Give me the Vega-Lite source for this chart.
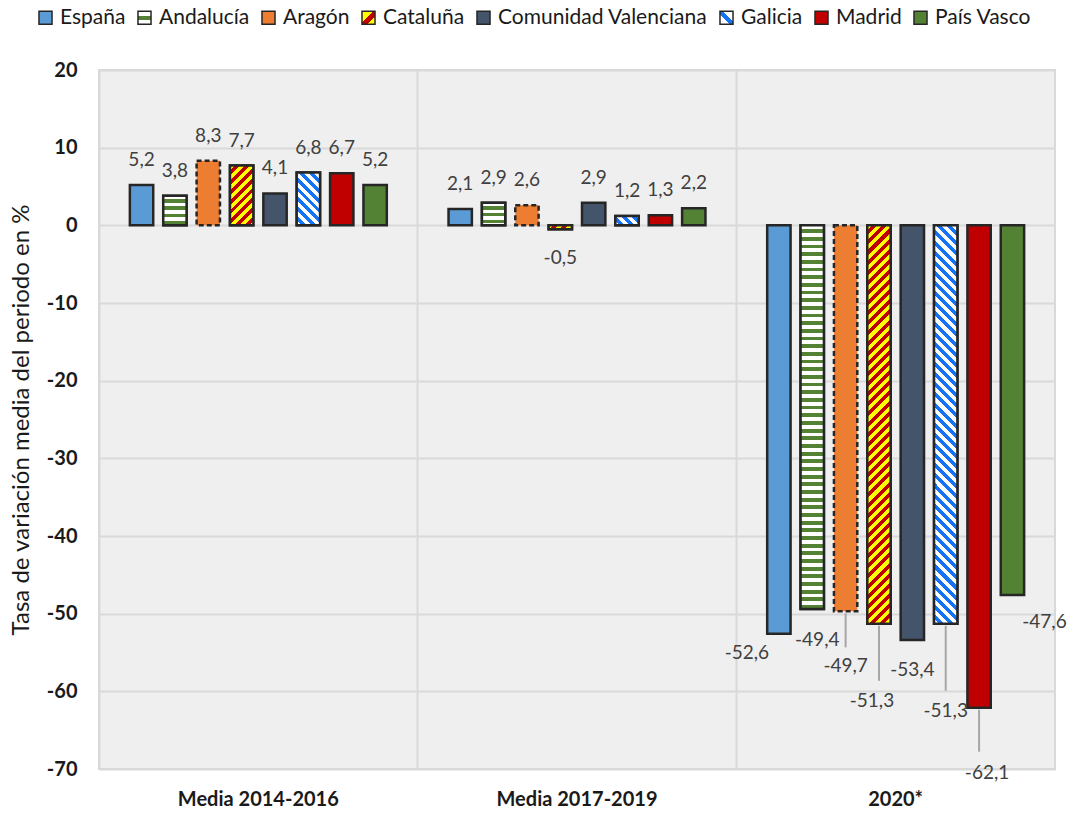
{
  "$schema": "https://vega.github.io/schema/vega-lite/v6.json",
  "width": 956,
  "height": 699,
  "autosize": {"type": "none"},
  "padding": {"left": 99, "top": 70, "right": 20, "bottom": 45},
  "background": "#ffffff",
  "config": {
    "font": "Lato",
    "locale": {"number": {"decimal": ",", "thousands": ".", "grouping": [3], "currency": ["", " €"], "minus": "-"}},
    "view": {"fill": "#efefef", "stroke": "#d9d9d9", "strokeWidth": 2}
  },
  "data": {"values": [
    {"period": "Media 2014-2016", "region": "España", "value": 5.2},
    {"period": "Media 2014-2016", "region": "Andalucía", "value": 3.8},
    {"period": "Media 2014-2016", "region": "Aragón", "value": 8.3},
    {"period": "Media 2014-2016", "region": "Cataluña", "value": 7.7},
    {"period": "Media 2014-2016", "region": "Comunidad Valenciana", "value": 4.1},
    {"period": "Media 2014-2016", "region": "Galicia", "value": 6.8},
    {"period": "Media 2014-2016", "region": "Madrid", "value": 6.7},
    {"period": "Media 2014-2016", "region": "País Vasco", "value": 5.2},
    {"period": "Media 2017-2019", "region": "España", "value": 2.1},
    {"period": "Media 2017-2019", "region": "Andalucía", "value": 2.9},
    {"period": "Media 2017-2019", "region": "Aragón", "value": 2.6},
    {"period": "Media 2017-2019", "region": "Cataluña", "value": -0.5},
    {"period": "Media 2017-2019", "region": "Comunidad Valenciana", "value": 2.9},
    {"period": "Media 2017-2019", "region": "Galicia", "value": 1.2},
    {"period": "Media 2017-2019", "region": "Madrid", "value": 1.3},
    {"period": "Media 2017-2019", "region": "País Vasco", "value": 2.2},
    {"period": "2020*", "region": "España", "value": -52.6},
    {"period": "2020*", "region": "Andalucía", "value": -49.4},
    {"period": "2020*", "region": "Aragón", "value": -49.7},
    {"period": "2020*", "region": "Cataluña", "value": -51.3},
    {"period": "2020*", "region": "Comunidad Valenciana", "value": -53.4},
    {"period": "2020*", "region": "Galicia", "value": -51.3},
    {"period": "2020*", "region": "Madrid", "value": -62.1},
    {"period": "2020*", "region": "País Vasco", "value": -47.6}
  ]},
  "encoding": {
    "x": {
      "field": "period", "type": "nominal",
      "sort": ["Media 2014-2016", "Media 2017-2019", "2020*"],
      "scale": {"paddingInner": 0, "paddingOuter": 0},
      "axis": {"title": null, "labelAngle": 0, "labelFontSize": 20, "labelFontWeight": "bold", "labelColor": "#1a1a1a", "labelPadding": 20, "ticks": false, "domain": false, "grid": true, "gridColor": "#d9d9d9", "gridWidth": 2, "bandPosition": 0}
    },
    "xOffset": {
      "field": "region", "type": "nominal",
      "sort": ["España", "Andalucía", "Aragón", "Cataluña", "Comunidad Valenciana", "Galicia", "Madrid", "País Vasco"],
      "scale": {"paddingInner": 0.3, "paddingOuter": 0.925}
    },
    "y": {
      "field": "value", "type": "quantitative",
      "scale": {"domain": [-70, 20], "nice": false, "zero": false},
      "axis": {"values": [-70, -60, -50, -40, -30, -20, -10, 0, 10, 20], "format": "d", "labelFontSize": 20, "labelFontWeight": "bold", "labelColor": "#1a1a1a", "labelPadding": 22, "ticks": false, "domain": false, "gridColor": "#d9d9d9", "gridWidth": 2, "title": "Tasa de variación media del periodo en %", "titleFontSize": 24, "titleFontWeight": "normal", "titleColor": "#1a1a1a", "titlePadding": 13}
    }
  },
  "layer": [
    {
      "mark": {"type": "bar", "stroke": "#262626", "strokeWidth": 2.5},
      "encoding": {
        "color": {
          "field": "region", "type": "nominal",
          "scale": {
            "domain": ["España", "Andalucía", "Aragón", "Cataluña", "Comunidad Valenciana", "Galicia", "Madrid", "País Vasco"],
            "range": [
              "#5b9bd5",
              {"expr": "{gradient: 'linear', x1: 0, y1: 0, x2: 0, y2: 1, stops: [{offset: 0.36, color: '#ffffff'}, {offset: 0.36, color: '#548235'}, {offset: 0.64, color: '#548235'}, {offset: 0.64, color: '#ffffff'}]}"},
              "#ed7d31",
              {"expr": "{gradient: 'linear', x1: 0, y1: 0, x2: 1, y2: 1, stops: [{offset: 0.45, color: '#ffff00'}, {offset: 0.45, color: '#c00000'}, {offset: 0.7, color: '#c00000'}, {offset: 0.7, color: '#ffff00'}]}"},
              "#44546a",
              {"expr": "{gradient: 'linear', x1: 0, y1: 1, x2: 1, y2: 0, stops: [{offset: 0.38, color: '#ffffff'}, {offset: 0.38, color: '#1474f5'}, {offset: 0.62, color: '#1474f5'}, {offset: 0.62, color: '#ffffff'}]}"},
              "#c00000",
              "#548235"
            ]
          },
          "legend": {
            "orient": "none", "legendX": -64, "legendY": -63, "direction": "horizontal", "title": null,
            "symbolType": "square", "symbolSize": 170, "symbolStrokeColor": "#262626", "symbolStrokeWidth": 1.5, "symbolOpacity": 1,
            "labelFontSize": 21, "labelColor": "#1a1a1a", "labelOffset": 4, "columnPadding": 8, "labelLimit": 400,
            "encode": {"symbols": {"update": {"stroke": {"value": "#262626"}, "strokeWidth": {"value": 1.5}}}}
          }
        },
        "strokeDash": {"condition": {"test": "datum.region === 'Aragón'", "value": [5, 3]}, "value": [1, 0]}
      }
    },
    {
      "transform": [{"filter": "datum.region === 'Andalucía' && datum.period === 'Media 2014-2016'"}],
      "mark": {"type": "bar", "stroke": "#262626", "strokeWidth": 2.5, "fill": {"gradient": "linear", "x1": 0, "y1": 0, "x2": 0, "y2": 1, "stops": [
        {"offset": 0.12, "color": "#fff"}, {"offset": 0.12, "color": "#548235"}, {"offset": 0.24, "color": "#548235"}, {"offset": 0.24, "color": "#fff"},
        {"offset": 0.36, "color": "#fff"}, {"offset": 0.36, "color": "#548235"}, {"offset": 0.48, "color": "#548235"}, {"offset": 0.48, "color": "#fff"},
        {"offset": 0.6, "color": "#fff"}, {"offset": 0.6, "color": "#548235"}, {"offset": 0.72, "color": "#548235"}, {"offset": 0.72, "color": "#fff"},
        {"offset": 0.84, "color": "#fff"}, {"offset": 0.84, "color": "#548235"}, {"offset": 0.96, "color": "#548235"}, {"offset": 0.96, "color": "#fff"}
      ]}}
    },
    {
      "transform": [{"filter": "datum.region === 'Andalucía' && datum.period === 'Media 2017-2019'"}],
      "mark": {"type": "bar", "stroke": "#262626", "strokeWidth": 2.5, "fill": {"gradient": "linear", "x1": 0, "y1": 0, "x2": 0, "y2": 1, "stops": [
        {"offset": 0.15, "color": "#fff"}, {"offset": 0.15, "color": "#548235"}, {"offset": 0.3, "color": "#548235"}, {"offset": 0.3, "color": "#fff"},
        {"offset": 0.45, "color": "#fff"}, {"offset": 0.45, "color": "#548235"}, {"offset": 0.6, "color": "#548235"}, {"offset": 0.6, "color": "#fff"},
        {"offset": 0.75, "color": "#fff"}, {"offset": 0.75, "color": "#548235"}, {"offset": 0.9, "color": "#548235"}, {"offset": 0.9, "color": "#fff"}
      ]}}
    },
    {
      "transform": [{"filter": "datum.region === 'Andalucía' && datum.period === '2020*'"}],
      "mark": {"type": "bar", "stroke": "#262626", "strokeWidth": 2.5, "fill": {"gradient": "linear", "x1": 0, "y1": 0, "x2": 0, "y2": 1, "stops": [
        {"offset": 0.01, "color": "#fff"}, {"offset": 0.01, "color": "#548235"}, {"offset": 0.02, "color": "#548235"}, {"offset": 0.02, "color": "#fff"},
        {"offset": 0.03, "color": "#fff"}, {"offset": 0.03, "color": "#548235"}, {"offset": 0.04, "color": "#548235"}, {"offset": 0.04, "color": "#fff"},
        {"offset": 0.05, "color": "#fff"}, {"offset": 0.05, "color": "#548235"}, {"offset": 0.06, "color": "#548235"}, {"offset": 0.06, "color": "#fff"},
        {"offset": 0.07, "color": "#fff"}, {"offset": 0.07, "color": "#548235"}, {"offset": 0.08, "color": "#548235"}, {"offset": 0.08, "color": "#fff"},
        {"offset": 0.09, "color": "#fff"}, {"offset": 0.09, "color": "#548235"}, {"offset": 0.1, "color": "#548235"}, {"offset": 0.1, "color": "#fff"},
        {"offset": 0.11, "color": "#fff"}, {"offset": 0.11, "color": "#548235"}, {"offset": 0.12, "color": "#548235"}, {"offset": 0.12, "color": "#fff"},
        {"offset": 0.13, "color": "#fff"}, {"offset": 0.13, "color": "#548235"}, {"offset": 0.14, "color": "#548235"}, {"offset": 0.14, "color": "#fff"},
        {"offset": 0.15, "color": "#fff"}, {"offset": 0.15, "color": "#548235"}, {"offset": 0.16, "color": "#548235"}, {"offset": 0.16, "color": "#fff"},
        {"offset": 0.17, "color": "#fff"}, {"offset": 0.17, "color": "#548235"}, {"offset": 0.18, "color": "#548235"}, {"offset": 0.18, "color": "#fff"},
        {"offset": 0.19, "color": "#fff"}, {"offset": 0.19, "color": "#548235"}, {"offset": 0.2, "color": "#548235"}, {"offset": 0.2, "color": "#fff"},
        {"offset": 0.21, "color": "#fff"}, {"offset": 0.21, "color": "#548235"}, {"offset": 0.22, "color": "#548235"}, {"offset": 0.22, "color": "#fff"},
        {"offset": 0.23, "color": "#fff"}, {"offset": 0.23, "color": "#548235"}, {"offset": 0.24, "color": "#548235"}, {"offset": 0.24, "color": "#fff"},
        {"offset": 0.25, "color": "#fff"}, {"offset": 0.25, "color": "#548235"}, {"offset": 0.26, "color": "#548235"}, {"offset": 0.26, "color": "#fff"},
        {"offset": 0.27, "color": "#fff"}, {"offset": 0.27, "color": "#548235"}, {"offset": 0.28, "color": "#548235"}, {"offset": 0.28, "color": "#fff"},
        {"offset": 0.29, "color": "#fff"}, {"offset": 0.29, "color": "#548235"}, {"offset": 0.3, "color": "#548235"}, {"offset": 0.3, "color": "#fff"},
        {"offset": 0.31, "color": "#fff"}, {"offset": 0.31, "color": "#548235"}, {"offset": 0.32, "color": "#548235"}, {"offset": 0.32, "color": "#fff"},
        {"offset": 0.33, "color": "#fff"}, {"offset": 0.33, "color": "#548235"}, {"offset": 0.34, "color": "#548235"}, {"offset": 0.34, "color": "#fff"},
        {"offset": 0.35, "color": "#fff"}, {"offset": 0.35, "color": "#548235"}, {"offset": 0.36, "color": "#548235"}, {"offset": 0.36, "color": "#fff"},
        {"offset": 0.37, "color": "#fff"}, {"offset": 0.37, "color": "#548235"}, {"offset": 0.38, "color": "#548235"}, {"offset": 0.38, "color": "#fff"},
        {"offset": 0.39, "color": "#fff"}, {"offset": 0.39, "color": "#548235"}, {"offset": 0.4, "color": "#548235"}, {"offset": 0.4, "color": "#fff"},
        {"offset": 0.41, "color": "#fff"}, {"offset": 0.41, "color": "#548235"}, {"offset": 0.42, "color": "#548235"}, {"offset": 0.42, "color": "#fff"},
        {"offset": 0.43, "color": "#fff"}, {"offset": 0.43, "color": "#548235"}, {"offset": 0.44, "color": "#548235"}, {"offset": 0.44, "color": "#fff"},
        {"offset": 0.45, "color": "#fff"}, {"offset": 0.45, "color": "#548235"}, {"offset": 0.46, "color": "#548235"}, {"offset": 0.46, "color": "#fff"},
        {"offset": 0.47, "color": "#fff"}, {"offset": 0.47, "color": "#548235"}, {"offset": 0.48, "color": "#548235"}, {"offset": 0.48, "color": "#fff"},
        {"offset": 0.49, "color": "#fff"}, {"offset": 0.49, "color": "#548235"}, {"offset": 0.5, "color": "#548235"}, {"offset": 0.5, "color": "#fff"},
        {"offset": 0.51, "color": "#fff"}, {"offset": 0.51, "color": "#548235"}, {"offset": 0.52, "color": "#548235"}, {"offset": 0.52, "color": "#fff"},
        {"offset": 0.53, "color": "#fff"}, {"offset": 0.53, "color": "#548235"}, {"offset": 0.54, "color": "#548235"}, {"offset": 0.54, "color": "#fff"},
        {"offset": 0.55, "color": "#fff"}, {"offset": 0.55, "color": "#548235"}, {"offset": 0.56, "color": "#548235"}, {"offset": 0.56, "color": "#fff"},
        {"offset": 0.57, "color": "#fff"}, {"offset": 0.57, "color": "#548235"}, {"offset": 0.58, "color": "#548235"}, {"offset": 0.58, "color": "#fff"},
        {"offset": 0.59, "color": "#fff"}, {"offset": 0.59, "color": "#548235"}, {"offset": 0.6, "color": "#548235"}, {"offset": 0.6, "color": "#fff"},
        {"offset": 0.61, "color": "#fff"}, {"offset": 0.61, "color": "#548235"}, {"offset": 0.62, "color": "#548235"}, {"offset": 0.62, "color": "#fff"},
        {"offset": 0.63, "color": "#fff"}, {"offset": 0.63, "color": "#548235"}, {"offset": 0.64, "color": "#548235"}, {"offset": 0.64, "color": "#fff"},
        {"offset": 0.65, "color": "#fff"}, {"offset": 0.65, "color": "#548235"}, {"offset": 0.66, "color": "#548235"}, {"offset": 0.66, "color": "#fff"},
        {"offset": 0.67, "color": "#fff"}, {"offset": 0.67, "color": "#548235"}, {"offset": 0.68, "color": "#548235"}, {"offset": 0.68, "color": "#fff"},
        {"offset": 0.69, "color": "#fff"}, {"offset": 0.69, "color": "#548235"}, {"offset": 0.7, "color": "#548235"}, {"offset": 0.7, "color": "#fff"},
        {"offset": 0.71, "color": "#fff"}, {"offset": 0.71, "color": "#548235"}, {"offset": 0.72, "color": "#548235"}, {"offset": 0.72, "color": "#fff"},
        {"offset": 0.73, "color": "#fff"}, {"offset": 0.73, "color": "#548235"}, {"offset": 0.74, "color": "#548235"}, {"offset": 0.74, "color": "#fff"},
        {"offset": 0.75, "color": "#fff"}, {"offset": 0.75, "color": "#548235"}, {"offset": 0.76, "color": "#548235"}, {"offset": 0.76, "color": "#fff"},
        {"offset": 0.77, "color": "#fff"}, {"offset": 0.77, "color": "#548235"}, {"offset": 0.78, "color": "#548235"}, {"offset": 0.78, "color": "#fff"},
        {"offset": 0.79, "color": "#fff"}, {"offset": 0.79, "color": "#548235"}, {"offset": 0.8, "color": "#548235"}, {"offset": 0.8, "color": "#fff"},
        {"offset": 0.81, "color": "#fff"}, {"offset": 0.81, "color": "#548235"}, {"offset": 0.82, "color": "#548235"}, {"offset": 0.82, "color": "#fff"},
        {"offset": 0.83, "color": "#fff"}, {"offset": 0.83, "color": "#548235"}, {"offset": 0.84, "color": "#548235"}, {"offset": 0.84, "color": "#fff"},
        {"offset": 0.85, "color": "#fff"}, {"offset": 0.85, "color": "#548235"}, {"offset": 0.86, "color": "#548235"}, {"offset": 0.86, "color": "#fff"},
        {"offset": 0.87, "color": "#fff"}, {"offset": 0.87, "color": "#548235"}, {"offset": 0.88, "color": "#548235"}, {"offset": 0.88, "color": "#fff"},
        {"offset": 0.89, "color": "#fff"}, {"offset": 0.89, "color": "#548235"}, {"offset": 0.9, "color": "#548235"}, {"offset": 0.9, "color": "#fff"},
        {"offset": 0.91, "color": "#fff"}, {"offset": 0.91, "color": "#548235"}, {"offset": 0.92, "color": "#548235"}, {"offset": 0.92, "color": "#fff"},
        {"offset": 0.93, "color": "#fff"}, {"offset": 0.93, "color": "#548235"}, {"offset": 0.94, "color": "#548235"}, {"offset": 0.94, "color": "#fff"},
        {"offset": 0.95, "color": "#fff"}, {"offset": 0.95, "color": "#548235"}, {"offset": 0.96, "color": "#548235"}, {"offset": 0.96, "color": "#fff"},
        {"offset": 0.97, "color": "#fff"}, {"offset": 0.97, "color": "#548235"}, {"offset": 0.98, "color": "#548235"}, {"offset": 0.98, "color": "#fff"},
        {"offset": 0.99, "color": "#fff"}, {"offset": 0.99, "color": "#548235"}
      ]}}
    },
    {
      "transform": [{"filter": "datum.region === 'Cataluña' && datum.period === 'Media 2014-2016'"}],
      "mark": {"type": "bar", "stroke": "#262626", "strokeWidth": 2.5, "fill": {"gradient": "linear", "x1": 0, "y1": 0, "x2": 0.4713, "y2": 1.2066, "stops": [
        {"offset": 0.0595, "color": "#ff0"}, {"offset": 0.0595, "color": "#c00000"}, {"offset": 0.119, "color": "#c00000"}, {"offset": 0.119, "color": "#ff0"},
        {"offset": 0.1785, "color": "#ff0"}, {"offset": 0.1785, "color": "#c00000"}, {"offset": 0.238, "color": "#c00000"}, {"offset": 0.238, "color": "#ff0"},
        {"offset": 0.2975, "color": "#ff0"}, {"offset": 0.2975, "color": "#c00000"}, {"offset": 0.357, "color": "#c00000"}, {"offset": 0.357, "color": "#ff0"},
        {"offset": 0.4165, "color": "#ff0"}, {"offset": 0.4165, "color": "#c00000"}, {"offset": 0.476, "color": "#c00000"}, {"offset": 0.476, "color": "#ff0"},
        {"offset": 0.5355, "color": "#ff0"}, {"offset": 0.5355, "color": "#c00000"}, {"offset": 0.595, "color": "#c00000"}, {"offset": 0.595, "color": "#ff0"},
        {"offset": 0.6545, "color": "#ff0"}, {"offset": 0.6545, "color": "#c00000"}, {"offset": 0.714, "color": "#c00000"}, {"offset": 0.714, "color": "#ff0"},
        {"offset": 0.7735, "color": "#ff0"}, {"offset": 0.7735, "color": "#c00000"}, {"offset": 0.833, "color": "#c00000"}, {"offset": 0.833, "color": "#ff0"},
        {"offset": 0.8925, "color": "#ff0"}, {"offset": 0.8925, "color": "#c00000"}, {"offset": 0.952, "color": "#c00000"}, {"offset": 0.952, "color": "#ff0"}
      ]}}
    },
    {
      "transform": [{"filter": "datum.region === 'Cataluña' && datum.period === 'Media 2017-2019'"}],
      "mark": {"type": "bar", "stroke": "#262626", "strokeWidth": 2.5, "fill": {"gradient": "linear", "x1": 0, "y1": 0, "x2": 1.1353, "y2": 0.1895, "stops": [
        {"offset": 0.1816, "color": "#ff0"}, {"offset": 0.1816, "color": "#c00000"}, {"offset": 0.3632, "color": "#c00000"}, {"offset": 0.3632, "color": "#ff0"},
        {"offset": 0.5448, "color": "#ff0"}, {"offset": 0.5448, "color": "#c00000"}, {"offset": 0.7264, "color": "#c00000"}, {"offset": 0.7264, "color": "#ff0"},
        {"offset": 0.908, "color": "#ff0"}, {"offset": 0.908, "color": "#c00000"}
      ]}}
    },
    {
      "transform": [{"filter": "datum.region === 'Cataluña' && datum.period === '2020*'"}],
      "mark": {"type": "bar", "stroke": "#262626", "strokeWidth": 2.5, "fill": {"gradient": "linear", "x1": 0, "y1": 0, "x2": 0.06186, "y2": 1.05502, "stops": [
        {"offset": 0.012, "color": "#ff0"}, {"offset": 0.012, "color": "#c00000"}, {"offset": 0.024, "color": "#c00000"}, {"offset": 0.024, "color": "#ff0"},
        {"offset": 0.036, "color": "#ff0"}, {"offset": 0.036, "color": "#c00000"}, {"offset": 0.048, "color": "#c00000"}, {"offset": 0.048, "color": "#ff0"},
        {"offset": 0.06, "color": "#ff0"}, {"offset": 0.06, "color": "#c00000"}, {"offset": 0.072, "color": "#c00000"}, {"offset": 0.072, "color": "#ff0"},
        {"offset": 0.084, "color": "#ff0"}, {"offset": 0.084, "color": "#c00000"}, {"offset": 0.096, "color": "#c00000"}, {"offset": 0.096, "color": "#ff0"},
        {"offset": 0.108, "color": "#ff0"}, {"offset": 0.108, "color": "#c00000"}, {"offset": 0.12, "color": "#c00000"}, {"offset": 0.12, "color": "#ff0"},
        {"offset": 0.132, "color": "#ff0"}, {"offset": 0.132, "color": "#c00000"}, {"offset": 0.144, "color": "#c00000"}, {"offset": 0.144, "color": "#ff0"},
        {"offset": 0.156, "color": "#ff0"}, {"offset": 0.156, "color": "#c00000"}, {"offset": 0.168, "color": "#c00000"}, {"offset": 0.168, "color": "#ff0"},
        {"offset": 0.18, "color": "#ff0"}, {"offset": 0.18, "color": "#c00000"}, {"offset": 0.192, "color": "#c00000"}, {"offset": 0.192, "color": "#ff0"},
        {"offset": 0.204, "color": "#ff0"}, {"offset": 0.204, "color": "#c00000"}, {"offset": 0.216, "color": "#c00000"}, {"offset": 0.216, "color": "#ff0"},
        {"offset": 0.228, "color": "#ff0"}, {"offset": 0.228, "color": "#c00000"}, {"offset": 0.24, "color": "#c00000"}, {"offset": 0.24, "color": "#ff0"},
        {"offset": 0.252, "color": "#ff0"}, {"offset": 0.252, "color": "#c00000"}, {"offset": 0.264, "color": "#c00000"}, {"offset": 0.264, "color": "#ff0"},
        {"offset": 0.276, "color": "#ff0"}, {"offset": 0.276, "color": "#c00000"}, {"offset": 0.288, "color": "#c00000"}, {"offset": 0.288, "color": "#ff0"},
        {"offset": 0.3, "color": "#ff0"}, {"offset": 0.3, "color": "#c00000"}, {"offset": 0.312, "color": "#c00000"}, {"offset": 0.312, "color": "#ff0"},
        {"offset": 0.324, "color": "#ff0"}, {"offset": 0.324, "color": "#c00000"}, {"offset": 0.336, "color": "#c00000"}, {"offset": 0.336, "color": "#ff0"},
        {"offset": 0.348, "color": "#ff0"}, {"offset": 0.348, "color": "#c00000"}, {"offset": 0.36, "color": "#c00000"}, {"offset": 0.36, "color": "#ff0"},
        {"offset": 0.372, "color": "#ff0"}, {"offset": 0.372, "color": "#c00000"}, {"offset": 0.384, "color": "#c00000"}, {"offset": 0.384, "color": "#ff0"},
        {"offset": 0.396, "color": "#ff0"}, {"offset": 0.396, "color": "#c00000"}, {"offset": 0.408, "color": "#c00000"}, {"offset": 0.408, "color": "#ff0"},
        {"offset": 0.42, "color": "#ff0"}, {"offset": 0.42, "color": "#c00000"}, {"offset": 0.432, "color": "#c00000"}, {"offset": 0.432, "color": "#ff0"},
        {"offset": 0.444, "color": "#ff0"}, {"offset": 0.444, "color": "#c00000"}, {"offset": 0.456, "color": "#c00000"}, {"offset": 0.456, "color": "#ff0"},
        {"offset": 0.468, "color": "#ff0"}, {"offset": 0.468, "color": "#c00000"}, {"offset": 0.48, "color": "#c00000"}, {"offset": 0.48, "color": "#ff0"},
        {"offset": 0.492, "color": "#ff0"}, {"offset": 0.492, "color": "#c00000"}, {"offset": 0.504, "color": "#c00000"}, {"offset": 0.504, "color": "#ff0"},
        {"offset": 0.516, "color": "#ff0"}, {"offset": 0.516, "color": "#c00000"}, {"offset": 0.528, "color": "#c00000"}, {"offset": 0.528, "color": "#ff0"},
        {"offset": 0.54, "color": "#ff0"}, {"offset": 0.54, "color": "#c00000"}, {"offset": 0.552, "color": "#c00000"}, {"offset": 0.552, "color": "#ff0"},
        {"offset": 0.564, "color": "#ff0"}, {"offset": 0.564, "color": "#c00000"}, {"offset": 0.576, "color": "#c00000"}, {"offset": 0.576, "color": "#ff0"},
        {"offset": 0.588, "color": "#ff0"}, {"offset": 0.588, "color": "#c00000"}, {"offset": 0.6, "color": "#c00000"}, {"offset": 0.6, "color": "#ff0"},
        {"offset": 0.612, "color": "#ff0"}, {"offset": 0.612, "color": "#c00000"}, {"offset": 0.624, "color": "#c00000"}, {"offset": 0.624, "color": "#ff0"},
        {"offset": 0.636, "color": "#ff0"}, {"offset": 0.636, "color": "#c00000"}, {"offset": 0.648, "color": "#c00000"}, {"offset": 0.648, "color": "#ff0"},
        {"offset": 0.66, "color": "#ff0"}, {"offset": 0.66, "color": "#c00000"}, {"offset": 0.672, "color": "#c00000"}, {"offset": 0.672, "color": "#ff0"},
        {"offset": 0.684, "color": "#ff0"}, {"offset": 0.684, "color": "#c00000"}, {"offset": 0.696, "color": "#c00000"}, {"offset": 0.696, "color": "#ff0"},
        {"offset": 0.708, "color": "#ff0"}, {"offset": 0.708, "color": "#c00000"}, {"offset": 0.72, "color": "#c00000"}, {"offset": 0.72, "color": "#ff0"},
        {"offset": 0.732, "color": "#ff0"}, {"offset": 0.732, "color": "#c00000"}, {"offset": 0.744, "color": "#c00000"}, {"offset": 0.744, "color": "#ff0"},
        {"offset": 0.756, "color": "#ff0"}, {"offset": 0.756, "color": "#c00000"}, {"offset": 0.768, "color": "#c00000"}, {"offset": 0.768, "color": "#ff0"},
        {"offset": 0.78, "color": "#ff0"}, {"offset": 0.78, "color": "#c00000"}, {"offset": 0.792, "color": "#c00000"}, {"offset": 0.792, "color": "#ff0"},
        {"offset": 0.804, "color": "#ff0"}, {"offset": 0.804, "color": "#c00000"}, {"offset": 0.816, "color": "#c00000"}, {"offset": 0.816, "color": "#ff0"},
        {"offset": 0.828, "color": "#ff0"}, {"offset": 0.828, "color": "#c00000"}, {"offset": 0.84, "color": "#c00000"}, {"offset": 0.84, "color": "#ff0"},
        {"offset": 0.852, "color": "#ff0"}, {"offset": 0.852, "color": "#c00000"}, {"offset": 0.864, "color": "#c00000"}, {"offset": 0.864, "color": "#ff0"},
        {"offset": 0.876, "color": "#ff0"}, {"offset": 0.876, "color": "#c00000"}, {"offset": 0.888, "color": "#c00000"}, {"offset": 0.888, "color": "#ff0"},
        {"offset": 0.9, "color": "#ff0"}, {"offset": 0.9, "color": "#c00000"}, {"offset": 0.912, "color": "#c00000"}, {"offset": 0.912, "color": "#ff0"},
        {"offset": 0.924, "color": "#ff0"}, {"offset": 0.924, "color": "#c00000"}, {"offset": 0.936, "color": "#c00000"}, {"offset": 0.936, "color": "#ff0"},
        {"offset": 0.948, "color": "#ff0"}, {"offset": 0.948, "color": "#c00000"}, {"offset": 0.96, "color": "#c00000"}, {"offset": 0.96, "color": "#ff0"},
        {"offset": 0.972, "color": "#ff0"}, {"offset": 0.972, "color": "#c00000"}, {"offset": 0.984, "color": "#c00000"}, {"offset": 0.984, "color": "#ff0"},
        {"offset": 0.996, "color": "#ff0"}, {"offset": 0.996, "color": "#c00000"}
      ]}}
    },
    {
      "transform": [{"filter": "datum.region === 'Galicia' && datum.period === 'Media 2014-2016'"}],
      "mark": {"type": "bar", "stroke": "#262626", "strokeWidth": 2.5, "fill": {"gradient": "linear", "x1": 0, "y1": 1, "x2": 0.5337, "y2": -0.2063, "stops": [
        {"offset": 0.065, "color": "#fff"}, {"offset": 0.065, "color": "#1474f5"}, {"offset": 0.13, "color": "#1474f5"}, {"offset": 0.13, "color": "#fff"},
        {"offset": 0.195, "color": "#fff"}, {"offset": 0.195, "color": "#1474f5"}, {"offset": 0.26, "color": "#1474f5"}, {"offset": 0.26, "color": "#fff"},
        {"offset": 0.325, "color": "#fff"}, {"offset": 0.325, "color": "#1474f5"}, {"offset": 0.39, "color": "#1474f5"}, {"offset": 0.39, "color": "#fff"},
        {"offset": 0.455, "color": "#fff"}, {"offset": 0.455, "color": "#1474f5"}, {"offset": 0.52, "color": "#1474f5"}, {"offset": 0.52, "color": "#fff"},
        {"offset": 0.585, "color": "#fff"}, {"offset": 0.585, "color": "#1474f5"}, {"offset": 0.65, "color": "#1474f5"}, {"offset": 0.65, "color": "#fff"},
        {"offset": 0.715, "color": "#fff"}, {"offset": 0.715, "color": "#1474f5"}, {"offset": 0.78, "color": "#1474f5"}, {"offset": 0.78, "color": "#fff"},
        {"offset": 0.845, "color": "#fff"}, {"offset": 0.845, "color": "#1474f5"}, {"offset": 0.91, "color": "#1474f5"}, {"offset": 0.91, "color": "#fff"},
        {"offset": 0.975, "color": "#fff"}, {"offset": 0.975, "color": "#1474f5"}
      ]}}
    },
    {
      "transform": [{"filter": "datum.region === 'Galicia' && datum.period === 'Media 2017-2019'"}],
      "mark": {"type": "bar", "stroke": "#262626", "strokeWidth": 2.5, "fill": {"gradient": "linear", "x1": 0, "y1": 1, "x2": 1.2068, "y2": 0.5185, "stops": [
        {"offset": 0.1515, "color": "#fff"}, {"offset": 0.1515, "color": "#1474f5"}, {"offset": 0.303, "color": "#1474f5"}, {"offset": 0.303, "color": "#fff"},
        {"offset": 0.4545, "color": "#fff"}, {"offset": 0.4545, "color": "#1474f5"}, {"offset": 0.606, "color": "#1474f5"}, {"offset": 0.606, "color": "#fff"},
        {"offset": 0.7575, "color": "#fff"}, {"offset": 0.7575, "color": "#1474f5"}, {"offset": 0.909, "color": "#1474f5"}, {"offset": 0.909, "color": "#fff"}
      ]}}
    },
    {
      "transform": [{"filter": "datum.region === 'Galicia' && datum.period === '2020*'"}],
      "mark": {"type": "bar", "stroke": "#262626", "strokeWidth": 2.5, "fill": {"gradient": "linear", "x1": 0, "y1": 1, "x2": 0.06186, "y2": -0.05502, "stops": [
        {"offset": 0.012, "color": "#fff"}, {"offset": 0.012, "color": "#1474f5"}, {"offset": 0.024, "color": "#1474f5"}, {"offset": 0.024, "color": "#fff"},
        {"offset": 0.036, "color": "#fff"}, {"offset": 0.036, "color": "#1474f5"}, {"offset": 0.048, "color": "#1474f5"}, {"offset": 0.048, "color": "#fff"},
        {"offset": 0.06, "color": "#fff"}, {"offset": 0.06, "color": "#1474f5"}, {"offset": 0.072, "color": "#1474f5"}, {"offset": 0.072, "color": "#fff"},
        {"offset": 0.084, "color": "#fff"}, {"offset": 0.084, "color": "#1474f5"}, {"offset": 0.096, "color": "#1474f5"}, {"offset": 0.096, "color": "#fff"},
        {"offset": 0.108, "color": "#fff"}, {"offset": 0.108, "color": "#1474f5"}, {"offset": 0.12, "color": "#1474f5"}, {"offset": 0.12, "color": "#fff"},
        {"offset": 0.132, "color": "#fff"}, {"offset": 0.132, "color": "#1474f5"}, {"offset": 0.144, "color": "#1474f5"}, {"offset": 0.144, "color": "#fff"},
        {"offset": 0.156, "color": "#fff"}, {"offset": 0.156, "color": "#1474f5"}, {"offset": 0.168, "color": "#1474f5"}, {"offset": 0.168, "color": "#fff"},
        {"offset": 0.18, "color": "#fff"}, {"offset": 0.18, "color": "#1474f5"}, {"offset": 0.192, "color": "#1474f5"}, {"offset": 0.192, "color": "#fff"},
        {"offset": 0.204, "color": "#fff"}, {"offset": 0.204, "color": "#1474f5"}, {"offset": 0.216, "color": "#1474f5"}, {"offset": 0.216, "color": "#fff"},
        {"offset": 0.228, "color": "#fff"}, {"offset": 0.228, "color": "#1474f5"}, {"offset": 0.24, "color": "#1474f5"}, {"offset": 0.24, "color": "#fff"},
        {"offset": 0.252, "color": "#fff"}, {"offset": 0.252, "color": "#1474f5"}, {"offset": 0.264, "color": "#1474f5"}, {"offset": 0.264, "color": "#fff"},
        {"offset": 0.276, "color": "#fff"}, {"offset": 0.276, "color": "#1474f5"}, {"offset": 0.288, "color": "#1474f5"}, {"offset": 0.288, "color": "#fff"},
        {"offset": 0.3, "color": "#fff"}, {"offset": 0.3, "color": "#1474f5"}, {"offset": 0.312, "color": "#1474f5"}, {"offset": 0.312, "color": "#fff"},
        {"offset": 0.324, "color": "#fff"}, {"offset": 0.324, "color": "#1474f5"}, {"offset": 0.336, "color": "#1474f5"}, {"offset": 0.336, "color": "#fff"},
        {"offset": 0.348, "color": "#fff"}, {"offset": 0.348, "color": "#1474f5"}, {"offset": 0.36, "color": "#1474f5"}, {"offset": 0.36, "color": "#fff"},
        {"offset": 0.372, "color": "#fff"}, {"offset": 0.372, "color": "#1474f5"}, {"offset": 0.384, "color": "#1474f5"}, {"offset": 0.384, "color": "#fff"},
        {"offset": 0.396, "color": "#fff"}, {"offset": 0.396, "color": "#1474f5"}, {"offset": 0.408, "color": "#1474f5"}, {"offset": 0.408, "color": "#fff"},
        {"offset": 0.42, "color": "#fff"}, {"offset": 0.42, "color": "#1474f5"}, {"offset": 0.432, "color": "#1474f5"}, {"offset": 0.432, "color": "#fff"},
        {"offset": 0.444, "color": "#fff"}, {"offset": 0.444, "color": "#1474f5"}, {"offset": 0.456, "color": "#1474f5"}, {"offset": 0.456, "color": "#fff"},
        {"offset": 0.468, "color": "#fff"}, {"offset": 0.468, "color": "#1474f5"}, {"offset": 0.48, "color": "#1474f5"}, {"offset": 0.48, "color": "#fff"},
        {"offset": 0.492, "color": "#fff"}, {"offset": 0.492, "color": "#1474f5"}, {"offset": 0.504, "color": "#1474f5"}, {"offset": 0.504, "color": "#fff"},
        {"offset": 0.516, "color": "#fff"}, {"offset": 0.516, "color": "#1474f5"}, {"offset": 0.528, "color": "#1474f5"}, {"offset": 0.528, "color": "#fff"},
        {"offset": 0.54, "color": "#fff"}, {"offset": 0.54, "color": "#1474f5"}, {"offset": 0.552, "color": "#1474f5"}, {"offset": 0.552, "color": "#fff"},
        {"offset": 0.564, "color": "#fff"}, {"offset": 0.564, "color": "#1474f5"}, {"offset": 0.576, "color": "#1474f5"}, {"offset": 0.576, "color": "#fff"},
        {"offset": 0.588, "color": "#fff"}, {"offset": 0.588, "color": "#1474f5"}, {"offset": 0.6, "color": "#1474f5"}, {"offset": 0.6, "color": "#fff"},
        {"offset": 0.612, "color": "#fff"}, {"offset": 0.612, "color": "#1474f5"}, {"offset": 0.624, "color": "#1474f5"}, {"offset": 0.624, "color": "#fff"},
        {"offset": 0.636, "color": "#fff"}, {"offset": 0.636, "color": "#1474f5"}, {"offset": 0.648, "color": "#1474f5"}, {"offset": 0.648, "color": "#fff"},
        {"offset": 0.66, "color": "#fff"}, {"offset": 0.66, "color": "#1474f5"}, {"offset": 0.672, "color": "#1474f5"}, {"offset": 0.672, "color": "#fff"},
        {"offset": 0.684, "color": "#fff"}, {"offset": 0.684, "color": "#1474f5"}, {"offset": 0.696, "color": "#1474f5"}, {"offset": 0.696, "color": "#fff"},
        {"offset": 0.708, "color": "#fff"}, {"offset": 0.708, "color": "#1474f5"}, {"offset": 0.72, "color": "#1474f5"}, {"offset": 0.72, "color": "#fff"},
        {"offset": 0.732, "color": "#fff"}, {"offset": 0.732, "color": "#1474f5"}, {"offset": 0.744, "color": "#1474f5"}, {"offset": 0.744, "color": "#fff"},
        {"offset": 0.756, "color": "#fff"}, {"offset": 0.756, "color": "#1474f5"}, {"offset": 0.768, "color": "#1474f5"}, {"offset": 0.768, "color": "#fff"},
        {"offset": 0.78, "color": "#fff"}, {"offset": 0.78, "color": "#1474f5"}, {"offset": 0.792, "color": "#1474f5"}, {"offset": 0.792, "color": "#fff"},
        {"offset": 0.804, "color": "#fff"}, {"offset": 0.804, "color": "#1474f5"}, {"offset": 0.816, "color": "#1474f5"}, {"offset": 0.816, "color": "#fff"},
        {"offset": 0.828, "color": "#fff"}, {"offset": 0.828, "color": "#1474f5"}, {"offset": 0.84, "color": "#1474f5"}, {"offset": 0.84, "color": "#fff"},
        {"offset": 0.852, "color": "#fff"}, {"offset": 0.852, "color": "#1474f5"}, {"offset": 0.864, "color": "#1474f5"}, {"offset": 0.864, "color": "#fff"},
        {"offset": 0.876, "color": "#fff"}, {"offset": 0.876, "color": "#1474f5"}, {"offset": 0.888, "color": "#1474f5"}, {"offset": 0.888, "color": "#fff"},
        {"offset": 0.9, "color": "#fff"}, {"offset": 0.9, "color": "#1474f5"}, {"offset": 0.912, "color": "#1474f5"}, {"offset": 0.912, "color": "#fff"},
        {"offset": 0.924, "color": "#fff"}, {"offset": 0.924, "color": "#1474f5"}, {"offset": 0.936, "color": "#1474f5"}, {"offset": 0.936, "color": "#fff"},
        {"offset": 0.948, "color": "#fff"}, {"offset": 0.948, "color": "#1474f5"}, {"offset": 0.96, "color": "#1474f5"}, {"offset": 0.96, "color": "#fff"},
        {"offset": 0.972, "color": "#fff"}, {"offset": 0.972, "color": "#1474f5"}, {"offset": 0.984, "color": "#1474f5"}, {"offset": 0.984, "color": "#fff"},
        {"offset": 0.996, "color": "#fff"}, {"offset": 0.996, "color": "#1474f5"}
      ]}}
    },
    {
      "transform": [{"filter": "datum.value > 0"}],
      "mark": {"type": "text", "baseline": "middle", "dy": -25, "fontSize": 19, "color": "#404040"},
      "encoding": {"text": {"field": "value", "type": "quantitative", "format": ".1f"}}
    },
    {
      "transform": [{"filter": "datum.value < 0"}],
      "mark": {
        "type": "text", "baseline": "middle", "fontSize": 19, "color": "#404040",
        "dy": {"expr": "datum.period === '2020*' ? [19,31,55,77,30,87,65,27][indexof(['España','Andalucía','Aragón','Cataluña','Comunidad Valenciana','Galicia','Madrid','País Vasco'], datum.region)] : 29"},
        "dx": {"expr": "datum.period === '2020*' ? [-32,5,0,-7,0,0,8,32][indexof(['España','Andalucía','Aragón','Cataluña','Comunidad Valenciana','Galicia','Madrid','País Vasco'], datum.region)] : 0"}
      },
      "encoding": {"text": {"field": "value", "type": "quantitative", "format": ".1f"}}
    },
    {
      "transform": [{"filter": "datum.period === '2020*' && indexof(['Aragón','Cataluña','Galicia','Madrid'], datum.region) >= 0"}],
      "mark": {
        "type": "rule", "color": "#a6a6a6", "strokeWidth": 2, "yOffset": 2,
        "y2Offset": {"expr": "[36,57,67,44][indexof(['Aragón','Cataluña','Galicia','Madrid'], datum.region)]"}
      },
      "encoding": {"y2": {"field": "value"}}
    }
  ]
}
